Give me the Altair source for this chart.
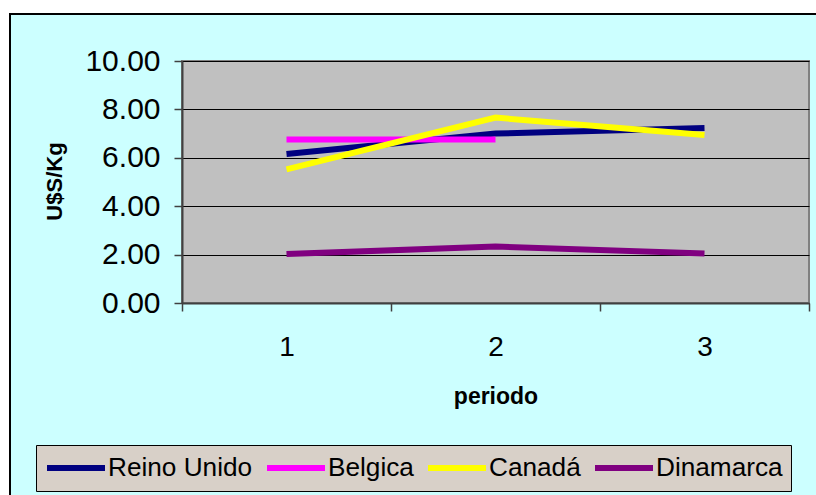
import altair as alt
import pandas as pd

# Precio medio por periodo (U$S/Kg)
periodos = [1, 2, 3]
series = ["Reino Unido", "Belgica", "Canadá", "Dinamarca"]
colores = ["#000080", "#FF00FF", "#FFFF00", "#800080"]
reino_unido = [6.16, 7.00, 7.23]
belgica = [6.76, 6.76, None]
canada = [5.52, 7.66, 6.94]
dinamarca = [2.02, 2.33, 2.05]

valores = {
    "Reino Unido": reino_unido,
    "Belgica": belgica,
    "Canadá": canada,
    "Dinamarca": dinamarca,
}
rows = []
for s in series:
    for p, v in zip(periodos, valores[s]):
        if v is not None:
            rows.append({"periodo": p, "valor": v, "serie": s})
df = pd.DataFrame(rows)

FONT = "Liberation Sans"
W, H = 627, 242

x_axis = alt.Axis(
    values=[0.5, 1, 1.5, 2, 2.5, 3, 3.5],
    labelExpr="datum.value % 1 === 0 ? format(datum.value, 'd') : ''",
    tickOpacity={"condition": {"test": "datum.value % 1 === 0", "value": 0}, "value": 1},
    labelOverlap=False,
    labelFlush=False,
    grid=False,
    labelFont=FONT,
    labelFontSize=28,
    labelColor="black",
    labelPadding=22,
    tickSize=8,
    tickColor="#404040",
    tickWidth=1.5,
    domainColor="#404040",
    domainWidth=2,
    title="periodo",
    titleFont=FONT,
    titleFontSize=23,
    titleFontWeight="bold",
    titleColor="black",
    titleY=100,
    titleBaseline="alphabetic",
)

y_axis = alt.Axis(
    values=[0, 2, 4, 6, 8, 10],
    format=".2f",
    grid=True,
    gridColor="black",
    gridWidth=1,
    labelFont=FONT,
    labelFontSize=30,
    labelColor="black",
    labelPadding=14,
    tickSize=8,
    tickColor="#404040",
    tickWidth=1.5,
    domainColor="#404040",
    domainWidth=2,
    title="U$S/Kg",
    titleFont=FONT,
    titleFontSize=22,
    titleFontWeight="bold",
    titleColor="black",
    titleX=-121,
    titleY=120,
    titleBaseline="alphabetic",
)

legend = alt.Legend(
    orient="none",
    legendX=-146,
    legendY=384,
    direction="horizontal",
    columns=4,
    title=None,
    fillColor="#D8D0C8",
    strokeColor="black",
    padding=8,
    clipHeight=30,
    symbolType="stroke",
    symbolSize=3364,
    symbolStrokeWidth=6,
    labelFont=FONT,
    labelFontSize=26.2,
    labelColor="black",
    labelOffset=0,
    labelLimit=400,
    columnPadding=11,
)

x_enc = alt.X("periodo:Q", scale=alt.Scale(domain=[0.5, 3.5], nice=False, zero=False), axis=x_axis)
y_enc = alt.Y("valor:Q", scale=alt.Scale(domain=[0, 10], nice=False), axis=y_axis)
color_enc = alt.Color("serie:N", scale=alt.Scale(domain=series, range=colores), legend=legend)

# one layer per series so the drawing order follows the legend order
line_layers = []
for s in series:
    line_layers.append(
        alt.Chart(df)
        .transform_filter(alt.datum.serie == s)
        .mark_line(strokeWidth=6, strokeCap="butt", strokeJoin="miter")
        .encode(x=x_enc, y=y_enc, color=color_enc)
    )

# white page margin and black frame around the chart area
frame_data = alt.Data(values=[{"k": 0}])
top_strip = alt.Chart(frame_data).mark_rect(color="white").encode(
    x=alt.value(-182), x2=alt.value(640), y=alt.value(-61), y2=alt.value(-47)
)
left_strip = alt.Chart(frame_data).mark_rect(color="white").encode(
    x=alt.value(-182), x2=alt.value(-172), y=alt.value(-61), y2=alt.value(440)
)
frame = alt.Chart(frame_data).mark_rect(fill=None, stroke="black", strokeWidth=2).encode(
    x=alt.value(-172), x2=alt.value(700), y=alt.value(-47), y2=alt.value(500)
)

chart = (
    alt.layer(*line_layers, top_strip, left_strip, frame)
    .properties(
        width=W,
        height=H,
        padding={"left": 182, "top": 61, "right": 7, "bottom": 192},
        autosize=alt.AutoSizeParams(type="none"),
        background="#CCFFFF",
    )
    .configure_view(fill="#C0C0C0", stroke="#808080", strokeWidth=2)
)

chart.save("out.html", embed_options={"renderer": "svg", "actions": False})
